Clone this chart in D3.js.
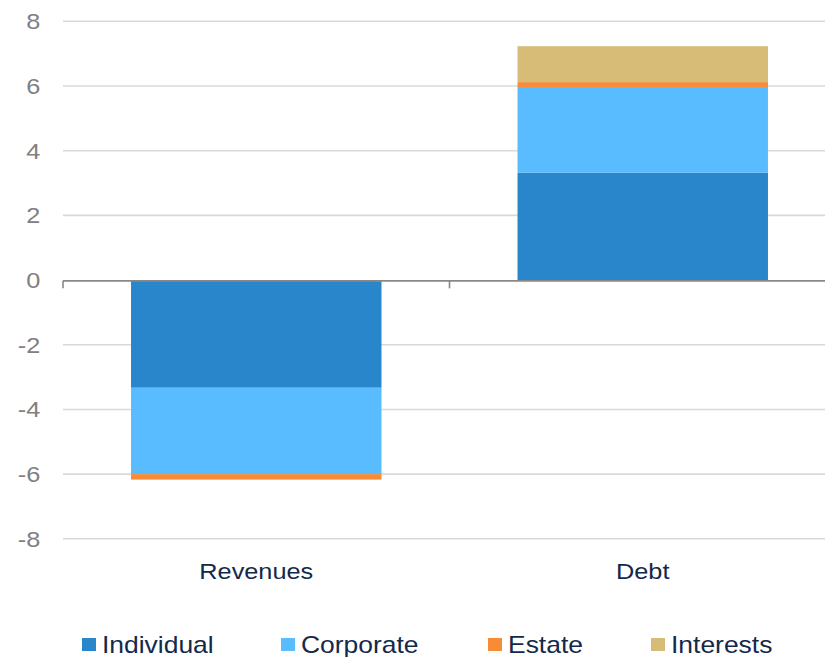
<!DOCTYPE html>
<html>
<head>
<meta charset="utf-8">
<script src="https://cdn.jsdelivr.net/npm/d3@7"></script>
<style>
  html, body { margin: 0; padding: 0; background: #fff; }
  svg { display: block; font-family: "Liberation Sans", Arial, sans-serif; }
</style>
</head>
<body>
<svg id="chart" width="825" height="657"></svg>
<script>
const categories = ["Revenues", "Debt"];
const seriesNames = ["Individual", "Corporate", "Estate", "Interests"];
const individual = [-3.33, 3.32];
const corporate = [-2.67, 2.65];
const estate = [-0.17, 0.15];
const interests = [0, 1.11];
const yTicks = [8, 6, 4, 2, 0, -2, -4, -6, -8];
const yTickLabels = ["8", "6", "4", "2", "0", "-2", "-4", "-6", "-8"];
const colors = ["#2986ca", "#59bcff", "#f78b37", "#d7bc77"];

const seriesValues = [individual, corporate, estate, interests];
const rows = categories.map((c, i) => {
  const r = { category: c };
  seriesNames.forEach((s, j) => r[s] = seriesValues[j][i]);
  return r;
});

const svg = d3.select("#chart");
const plotLeft = 63, plotRight = 836, plotTop = 21.3, plotBottom = 538.8;
const SX = 1.15;

const x = d3.scaleBand().domain(categories).range([plotLeft, plotRight])
  .paddingInner(0.352).paddingOuter(0.176);
const y = d3.scaleLinear().domain([-8, 8]).range([plotBottom, plotTop]);

// gridlines
svg.append("g").selectAll("line").data(yTicks.filter(d => d !== 0)).join("line")
  .attr("x1", plotLeft).attr("x2", 825)
  .attr("y1", d => y(d)).attr("y2", d => y(d))
  .attr("stroke", "#d9d9d9").attr("stroke-width", 1.6);

// y labels
svg.append("g").selectAll("text").data(yTicks).join("text")
  .attr("transform", d => `translate(40.3,${y(d)}) scale(${SX},1)`)
  .attr("text-anchor", "end").attr("dy", "0.36em")
  .attr("font-size", 22).attr("fill", "#808080")
  .text((d, i) => yTickLabels[i]);

// stacked bars (diverging)
const stack = d3.stack().keys(seriesNames).offset(d3.stackOffsetDiverging);
const stacked = stack(rows);
svg.append("g").selectAll("g").data(stacked).join("g")
  .attr("fill", (d, i) => colors[i])
  .selectAll("rect").data(d => d).join("rect")
  .attr("x", d => x(d.data.category))
  .attr("width", x.bandwidth())
  .attr("y", d => y(Math.max(d[0], d[1])))
  .attr("height", d => Math.abs(y(d[0]) - y(d[1])));

// zero axis
const ax = svg.append("g").attr("transform", `translate(0,${y(0) + 0.8})`);
ax.append("line").attr("x1", plotLeft).attr("x2", 825).attr("y1", 0).attr("y2", 0)
  .attr("stroke", "#888").attr("stroke-width", 1.6);
const tickPos = [plotLeft, plotLeft + x.step()];
ax.selectAll("line.tick").data(tickPos).join("line").attr("class", "tick")
  .attr("x1", d => d).attr("x2", d => d).attr("y1", 0).attr("y2", 7.5)
  .attr("stroke", "#888").attr("stroke-width", 1.6);

// category labels
svg.append("g").selectAll("text").data(categories).join("text")
  .attr("transform", d => `translate(${x(d) + x.bandwidth() / 2},579) scale(${SX},1)`)
  .attr("text-anchor", "middle").attr("font-size", 22).attr("fill", "#13294b")
  .text(d => d);

// legend
const legendX = [102, 301, 508, 671];
const lg = svg.append("g").selectAll("g").data(seriesNames).join("g");
lg.append("rect")
  .attr("x", (d, i) => legendX[i] - 20).attr("y", 638)
  .attr("width", 14).attr("height", 13)
  .attr("fill", (d, i) => colors[i]);
lg.append("text")
  .attr("transform", (d, i) => `translate(${legendX[i]},653) scale(${SX},1)`)
  .attr("font-size", 23).attr("fill", "#13294b")
  .text(d => d);
</script>
</body>
</html>
